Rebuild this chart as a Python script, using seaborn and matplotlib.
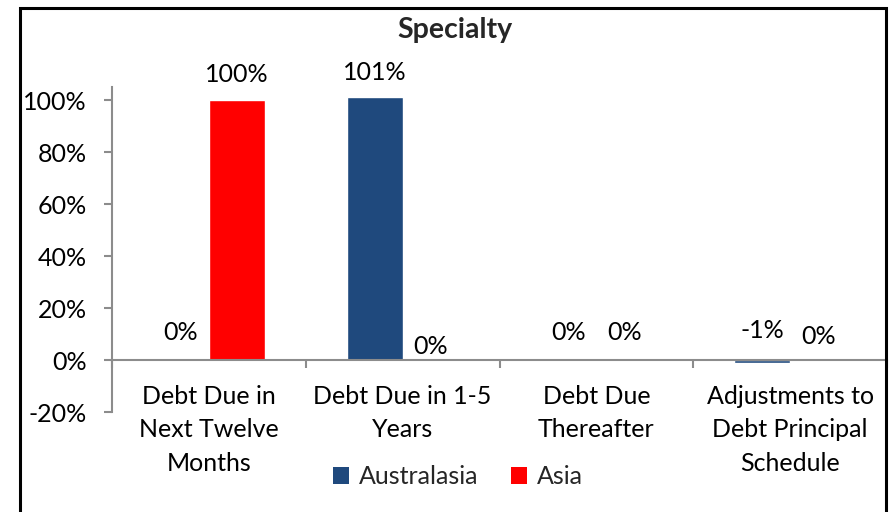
import matplotlib
matplotlib.use("Agg")
import matplotlib.pyplot as plt
import seaborn as sns
import pandas as pd
from matplotlib.patches import Rectangle, Patch
from matplotlib.ticker import FixedLocator, FuncFormatter

categories = ["Debt Due in\nNext Twelve\nMonths", "Debt Due in 1-5\nYears",
              "Debt Due\nThereafter", "Adjustments to\nDebt Principal\nSchedule"]
series_names = ["Australasia", "Asia"]
australasia = [0, 101, 0, -1]
asia = [100, 0, 0, 0]
y_ticks = [-20, 0, 20, 40, 60, 80, 100]
title = "Specialty"

colors = {"Australasia": "#1F497D", "Asia": "#FF0000"}
# label vertical offsets in pixels (from bar end)
label_offsets = {"Australasia": [27, 25, 27, 32], "Asia": [26, 13, 27, 23]}

df = pd.DataFrame({
    "Category": categories * 2,
    "Series": ["Australasia"] * 4 + ["Asia"] * 4,
    "Value": australasia + asia,
})

sns.set_theme(style="white")
FONT = ["Lato", "DejaVu Sans"]
plt.rcParams["font.family"] = FONT
FS = 18

W, H = 892, 512
fig = plt.figure(figsize=(W / 100, H / 100), dpi=100)
ax = fig.add_axes([112 / W, 1 - 412 / H, (887 - 112) / W, (412 - 87) / H])

sns.barplot(data=df, x="Category", y="Value", hue="Series", hue_order=series_names,
            order=categories, palette=colors, width=0.578, ax=ax, saturation=1,
            legend=False)

ax.set_xlim(-0.5, 3.5)
ax.set_ylim(-20, 105)

for s in ["top", "right"]:
    ax.spines[s].set_visible(False)
gray = "#8C8C8C"
ax.spines["left"].set_color(gray)
ax.spines["left"].set_linewidth(1.5)
ax.spines["bottom"].set_color(gray)
ax.spines["bottom"].set_linewidth(1.5)
ax.spines["bottom"].set_position(("data", 0))
ax.spines["left"].set_bounds(-20, 105)

ax.yaxis.set_major_locator(FixedLocator(y_ticks))
ax.yaxis.set_major_formatter(FuncFormatter(lambda v, p: f"{v:.0f}%"))
ax.tick_params(axis="y", which="major", direction="out", length=6, width=1.5,
               color=gray, labelsize=FS, pad=12, left=True, labelcolor="black")

n = len(categories)
ax.xaxis.set_major_locator(FixedLocator([i - 0.5 for i in range(n + 1)]))
ax.xaxis.set_major_formatter(FuncFormatter(lambda v, p: ""))
ax.xaxis.set_minor_locator(FixedLocator(list(range(n))))
ax.set_xticks(range(n), categories, minor=True)
ax.tick_params(axis="x", which="major", direction="out", length=6, width=1.5,
               color=gray, bottom=True)
ax.tick_params(axis="x", which="minor", length=0, labelsize=FS, pad=18,
               labelcolor="black")
for lbl in ax.get_xticklabels(minor=True):
    lbl.set_linespacing(1.55)
ax.set_xlabel("")
ax.set_ylabel("")

# data labels
vals = {"Australasia": australasia, "Asia": asia}
for container, name in zip(ax.containers, series_names):
    for i, bar in enumerate(container):
        v = vals[name][i]
        xc = bar.get_x() + bar.get_width() / 2
        off = label_offsets[name][i]
        ax.annotate(f"{v:.0f}%", (xc, v), xytext=(0, off * 0.72),
                    textcoords="offset points", ha="center", va="center",
                    fontsize=FS, color="black", annotation_clip=False)

fig.text(455 / W, 1 - 30 / H, title, ha="center", va="center",
         fontsize=20.5, fontweight="bold")

handles = [Patch(facecolor=colors[s], edgecolor="none", label=s) for s in series_names]
fig.legend(handles=handles, loc="center", bbox_to_anchor=(458 / W, 1 - 477 / H),
           ncol=2, frameon=False, fontsize=FS, handlelength=0.65,
           handleheight=0.65, handletextpad=0.4, columnspacing=1.3)

fig.patches.append(Rectangle((20 / W, 0 - 0.05), (886 - 20) / W, 1 - 8 / H + 0.05,
                             transform=fig.transFigure, fill=False,
                             edgecolor="black", linewidth=2.2))

fig.savefig("out.png", dpi=100)
